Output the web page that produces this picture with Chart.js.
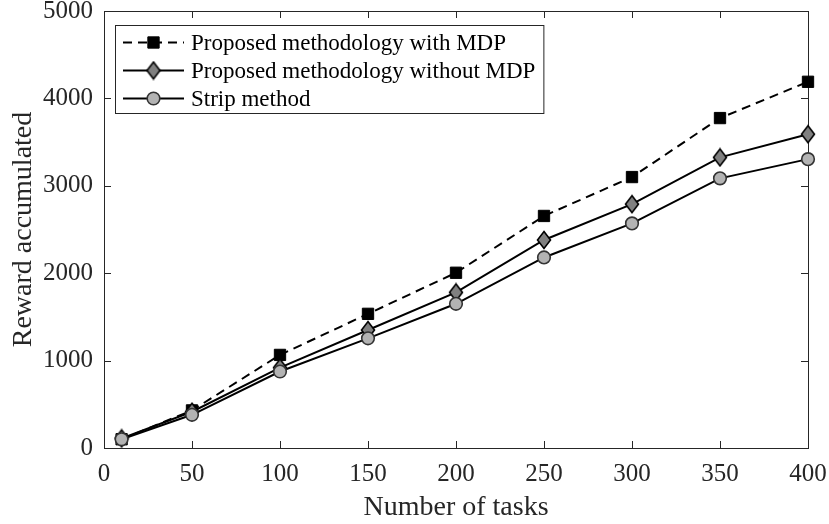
<!DOCTYPE html>
<html>
<head>
<meta charset="utf-8">
<script src="https://cdn.jsdelivr.net/npm/chart.js@4/dist/chart.umd.min.js"></script>
<style>
  html, body { margin: 0; padding: 0; background: #fff; }
  #wrap { width: 829px; height: 524px; }
</style>
</head>
<body>
<div id="wrap"><canvas id="grafico" width="829" height="524"></canvas></div>
<script>
// ---------- dados ----------
const tasks      = [10, 50, 100, 150, 200, 250, 300, 350, 400];
const withMdp    = [100, 430, 1065, 1535, 2005, 2655, 3100, 3775, 4190];
const withoutMdp = [110, 415, 920, 1350, 1780, 2380, 2790, 3325, 3590];
const strip      = [100, 380, 875, 1255, 1650, 2180, 2570, 3085, 3305];

const seriesLabels = [
  'Proposed methodology with MDP',
  'Proposed methodology without MDP',
  'Strip method'
];
const xTicks = { min: 0, max: 400, step: 50 };
const yTicks = { min: 0, max: 5000, step: 1000 };

const FONT = "'Liberation Serif', 'Times New Roman', serif";
const AXIS = '#262626';

// losango do MATLAB (mais alto que largo)
function diamond(){
  const c = document.createElement('canvas');
  c.width = 16; c.height = 20;
  const g = c.getContext('2d');
  g.beginPath();
  g.moveTo(8, 1.5); g.lineTo(14.5, 10); g.lineTo(8, 18.5); g.lineTo(1.5, 10);
  g.closePath();
  g.fillStyle = '#808080'; g.fill();
  g.lineWidth = 1.6; g.strokeStyle = '#000'; g.stroke();
  return c;
}

const pts = (ys) => tasks.map((x, i) => ({ x, y: ys[i] }));

// ---------- moldura + ticks para dentro ----------
const frame = {
  id: 'frame',
  beforeDatasetsDraw(chart){
    const { ctx, chartArea: a, scales: { x, y } } = chart;
    const L = 7;
    ctx.save();
    ctx.strokeStyle = AXIS;
    ctx.lineWidth = 1;
    ctx.strokeRect(a.left + 0.5, a.top + 0.5, a.right - a.left, a.bottom - a.top);
    ctx.beginPath();
    x.ticks.forEach(t => {
      const px = Math.round(x.getPixelForValue(t.value)) + 0.5;
      ctx.moveTo(px, a.bottom); ctx.lineTo(px, a.bottom - L);
      ctx.moveTo(px, a.top); ctx.lineTo(px, a.top + L);
    });
    y.ticks.forEach(t => {
      const py = Math.round(y.getPixelForValue(t.value)) + 0.5;
      ctx.moveTo(a.left, py); ctx.lineTo(a.left + L, py);
      ctx.moveTo(a.right, py); ctx.lineTo(a.right - L, py);
    });
    ctx.stroke();
    ctx.restore();
  }
};

// ---------- legenda dentro do gráfico ----------
const legendBox = {
  id: 'legendBox',
  afterDraw(chart){
    const { ctx, chartArea: a } = chart;
    const bx = a.left + 11, by = a.top + 14;
    const rowH = 28, sampleL = 8, sampleR = 69, textX = 76;
    ctx.save();
    ctx.font = `23px ${FONT}`;
    const ds = chart.data.datasets;
    const maxW = Math.max(...ds.map(d => ctx.measureText(d.label).width));
    const w = textX + maxW + 8, h = rowH * ds.length + 4;
    ctx.fillStyle = '#fff';
    ctx.fillRect(bx, by, w, h);
    ctx.strokeStyle = AXIS;
    ctx.lineWidth = 1;
    ctx.strokeRect(bx + 0.5, by + 0.5, w, h);

    ds.forEach((d, i) => {
      const cy = by + 17.5 + i * rowH;
      ctx.strokeStyle = d.borderColor;
      ctx.lineWidth = d.borderWidth;
      ctx.setLineDash(d.borderDash || []);
      ctx.beginPath();
      ctx.moveTo(bx + sampleL, cy); ctx.lineTo(bx + sampleR, cy);
      ctx.stroke();
      ctx.setLineDash([]);
      ctx.fillStyle = d.pointBackgroundColor;
      ctx.strokeStyle = d.pointBorderColor;
      ctx.lineWidth = d.pointBorderWidth;
      Chart.helpers.drawPoint(ctx, {
        pointStyle: d.pointStyle, radius: d.pointRadius, rotation: 0, borderWidth: d.pointBorderWidth
      }, bx + (sampleL + sampleR) / 2, cy);
      ctx.fillStyle = '#000';
      ctx.textBaseline = 'middle';
      ctx.textAlign = 'left';
      ctx.fillText(d.label, bx + textX, cy + 1);
    });
    ctx.restore();
  }
};

function tickOpts(step, pad){
  return { stepSize: step, padding: pad, color: AXIS, maxRotation: 0, autoSkip: false,
           font: { family: FONT, size: 25 }, callback: (v) => String(v) };
}

new Chart(document.getElementById('grafico'), {
  type: 'line',
  data: {
    datasets: [
      { label: seriesLabels[0], data: pts(withMdp), order: 2,
        borderColor: '#000', borderWidth: 2, borderDash: [9, 6],
        pointStyle: 'rect', pointRadius: 8, pointBackgroundColor: '#000',
        pointBorderColor: '#000', pointBorderWidth: 1, clip: false },
      { label: seriesLabels[1], data: pts(withoutMdp), order: 1,
        borderColor: '#000', borderWidth: 2,
        pointStyle: diamond(), pointRadius: 8, pointBackgroundColor: '#808080',
        pointBorderColor: '#000', pointBorderWidth: 1.6, clip: false },
      { label: seriesLabels[2], data: pts(strip), order: 0,
        borderColor: '#000', borderWidth: 2,
        pointStyle: 'circle', pointRadius: 6.3, pointBackgroundColor: '#b3b3b3',
        pointBorderColor: '#333', pointBorderWidth: 1.6, clip: false }
    ]
  },
  options: {
    responsive: false,
    animation: false,
    layout: { padding: { top: 11, right: 21, left: 0, bottom: 0 } },
    plugins: { legend: { display: false }, tooltip: { enabled: false } },
    elements: { line: { tension: 0 } },
    scales: {
      x: {
        type: 'linear', min: xTicks.min, max: xTicks.max,
        ticks: tickOpts(xTicks.step, 11),
        grid: { display: false, drawTicks: false },
        border: { display: false },
        title: { display: true, text: 'Number of tasks', color: AXIS,
                 font: { family: FONT, size: 28 }, padding: { top: 0, bottom: 0 } },
        afterFit(s){ s.height = 76; s.paddingLeft = 0; s.paddingRight = 0; }
      },
      y: {
        type: 'linear', min: yTicks.min, max: yTicks.max,
        ticks: tickOpts(yTicks.step, 11),
        grid: { display: false, drawTicks: false },
        border: { display: false },
        title: { display: true, text: 'Reward accumulated', color: AXIS,
                 font: { family: FONT, size: 28 }, padding: 7 },
        afterFit(s){ s.width = 104; s.paddingTop = 0; s.paddingBottom = 0; }
      }
    }
  },
  plugins: [frame, legendBox]
});
</script>
</body>
</html>
